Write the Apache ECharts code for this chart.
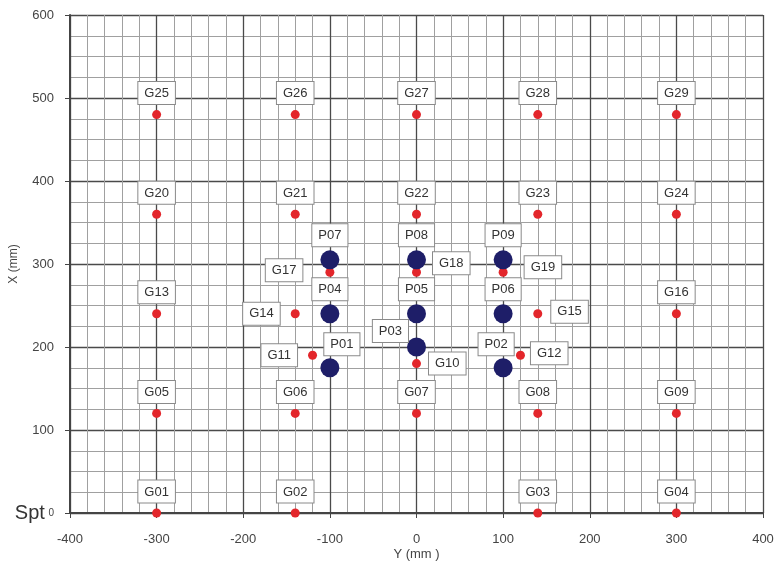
<!DOCTYPE html>
<html><head><meta charset="utf-8">
<script src="https://cdn.jsdelivr.net/npm/echarts@6/dist/echarts.min.js"></script>
<style>html,body{margin:0;padding:0;background:#fff}#c{width:776px;height:564px}</style>
</head><body><div id="c"></div>
<script>
// G points (red)
const gNames = ['G01','G02','G03','G04','G05','G06','G07','G08','G09','G10','G11','G12','G13','G14','G15','G16','G17','G18','G19','G20','G21','G22','G23','G24','G25','G26','G27','G28','G29'];
const gY = [-300,-140,140,300,-300,-140,0,140,300,0,-120,120,-300,-140,140,300,-100,0,100,-300,-140,0,140,300,-300,-140,0,140,300];
const gX = [0,0,0,0,120,120,120,120,120,180,190,190,240,240,240,240,290,290,290,360,360,360,360,360,480,480,480,480,480];
// P points (blue)
const pNames = ['P01','P02','P03','P04','P05','P06','P07','P08','P09'];
const pY = [-100,100,0,-100,0,100,-100,0,100];
const pX = [175,175,200,240,240,240,305,305,305];
// axis tick labels
const xTicks = [-400,-300,-200,-100,0,100,200,300,400];
const yTicks = [0,100,200,300,400,500,600];

// label layout (style only)
const labelLayout = {
  G17:{position:'left',distance:23,offset:[0,-2]},
  G18:{position:'right',distance:12,offset:[0,-9]},
  G19:{position:'right',distance:17,offset:[0,-5]},
  G14:{position:'left',distance:11,offset:[0,0]},
  G15:{position:'right',distance:9,offset:[0,-2]},
  G11:{position:'left',distance:11,offset:[0,0]},
  G12:{position:'right',distance:6,offset:[0,-2]},
  G10:{position:'right',distance:8,offset:[0,0]},
  P01:{position:'top',distance:3,offset:[12,0]},
  P02:{position:'top',distance:3,offset:[-7,0]},
  P03:{position:'left',distance:0,offset:[1,-16]}
};
const font = 'Liberation Sans, Arial, sans-serif';
const boxStyle = {
  show:true, color:'#333', fontSize:13, fontFamily:font,
  backgroundColor:'#fff', borderColor:'#8a8a8a', borderWidth:1, padding:[5,6,4,6]
};
function mk(names, xs, ys, defDist){
  return names.map((n,i)=>{
    const l = labelLayout[n];
    return {name:n, value:[ys[i], xs[i]],
      label: l ? Object.assign({}, boxStyle, l, {formatter:n}) : Object.assign({}, boxStyle, {position:'top', distance:defDist, formatter:n})};
  });
}
const chart = echarts.init(document.getElementById('c'));
chart.setOption({
  animation:false,
  grid:{left:70,right:13,top:15,bottom:51,containLabel:false,outerBoundsMode:'none'},
  xAxis:{type:'value',min:-400,max:400,interval:100,
    name:'Y (mm )',nameLocation:'middle',nameGap:35,nameMoveOverlap:false,
    nameTextStyle:{color:'#444',fontSize:13,fontFamily:font,verticalAlign:'top'},
    axisLine:{show:true,onZero:false,lineStyle:{color:'#444',width:2}},
    axisTick:{show:true,length:5,lineStyle:{color:'#444'}},
    axisLabel:{color:'#444',fontSize:13,fontFamily:font,margin:20,
      formatter:v=>xTicks.includes(v)?String(v):''},
    splitLine:{show:true,lineStyle:{color:'#4a4a4a',width:1.3}},
    minorTick:{show:true,splitNumber:5,length:0},
    minorSplitLine:{show:true,lineStyle:{color:'#a0a0a0',width:1}}
  },
  yAxis:{type:'value',min:0,max:600,interval:100,
    name:'X (mm)',nameLocation:'middle',nameGap:50,nameMoveOverlap:false,
    nameTextStyle:{color:'#444',fontSize:12,fontFamily:font},
    axisLine:{show:true,onZero:false,lineStyle:{color:'#444',width:2}},
    axisTick:{show:true,length:5,lineStyle:{color:'#444'}},
    axisLabel:{color:'#444',fontSize:13,fontFamily:font,margin:16,
      formatter:v=>v===0?'{s|Spt} {z|0}':(yTicks.includes(v)?String(v):''),
      rich:{s:{fontSize:20,color:'#333',fontFamily:font},z:{fontSize:10,color:'#444',fontFamily:font}}},
    splitLine:{show:true,lineStyle:{color:'#4a4a4a',width:1.3}},
    minorTick:{show:true,splitNumber:4,length:0},
    minorSplitLine:{show:true,lineStyle:{color:'#a0a0a0',width:1}}
  },
  series:[
    {type:'scatter',name:'G',symbolSize:9,itemStyle:{color:'#e3262b',opacity:1},
      data:mk(gNames,gX,gY,6),z:3},
    {type:'scatter',name:'P',symbolSize:19,itemStyle:{color:'#1e1e68',opacity:1},
      data:mk(pNames,pX,pY,4),z:4}
  ]
});
</script></body></html>
